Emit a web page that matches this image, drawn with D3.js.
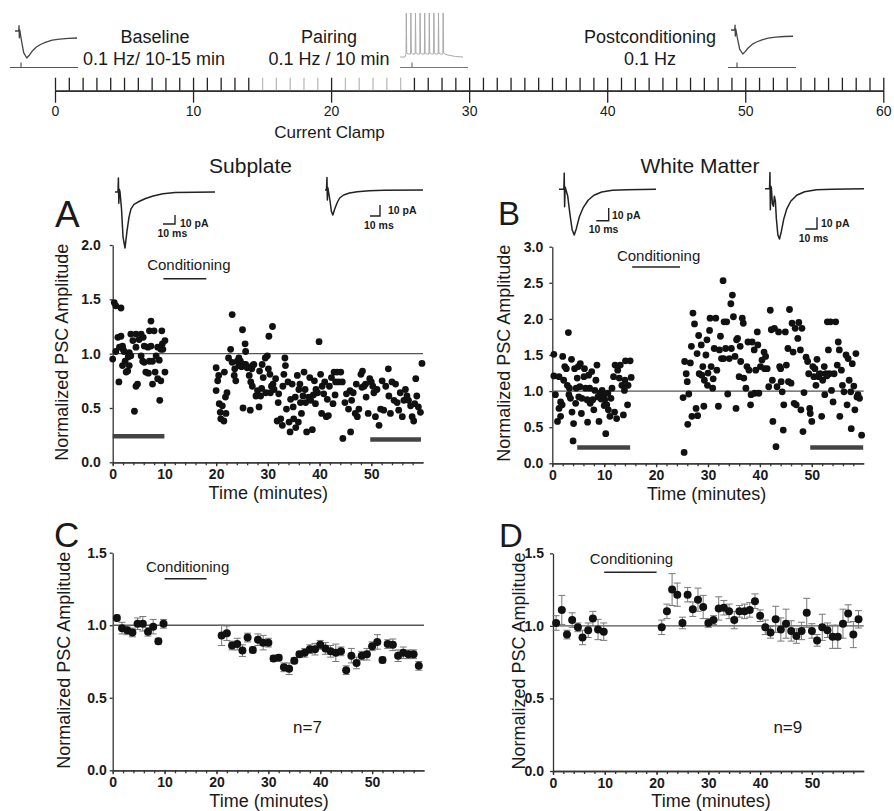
<!DOCTYPE html>
<html>
<head>
<meta charset="utf-8">
<script src="https://cdn.jsdelivr.net/npm/d3@7"></script>
<style>
  body { margin: 0; background: #fff; }
  svg text { font-family: "Liberation Sans", Arial, Helvetica, sans-serif; fill: #1a1a1a; }
</style>
</head>
<body>
<svg id="fig" width="894" height="811"></svg>
<script>
const FONT = '"Liberation Sans", Arial, Helvetica, sans-serif';

// ---- data ----
const timelineTicks = [0, 10, 20, 30, 40, 50, 60];
const panelXTicks = [0, 10, 20, 30, 40, 50];

// Subplate single cell, [minute, normalized amplitude]
const subplatePoints = [
  [0.3,1.47],[0.6,1.44],[1.6,1.42],[0.0,0.95],[0.6,1.02],[1.0,1.15],[1.3,1.06],[1.2,0.74],[1.6,1.16],[1.9,1.07],
  [2.2,1.02],[1.9,0.89],[2.4,0.93],[2.6,0.83],[2.9,0.84],[3.2,1.01],[3.2,0.89],[3.5,1.18],[3.5,0.98],[3.9,1.12],
  [4.2,0.47],[4.5,1.18],[4.5,1.06],[4.5,0.70],[4.8,0.72],[5.1,1.13],[5.5,1.18],[5.5,0.98],[5.8,0.93],[6.1,0.92],
  [6.1,1.07],[6.4,0.83],[6.8,1.06],[6.9,0.82],[7.1,0.93],[7.4,1.30],[7.1,1.21],[7.4,1.07],[7.7,0.93],[7.7,0.72],
  [8.0,1.21],[8.2,0.83],[8.4,0.98],[8.7,1.06],[8.7,0.77],[9.0,0.94],[9.1,0.57],[9.3,0.75],[9.5,1.21],[9.6,1.09],
  [9.7,1.04],[10.1,1.12],[10.1,0.83],[9.3,1.04],[2.0,1.04],[5.9,1.15],[3.0,0.97],
  [20.0,0.87],[20.0,0.66],[20.3,0.75],[20.5,0.80],[20.6,0.54],[20.8,0.46],[20.9,0.40],[21.2,0.52],[21.5,0.38],[21.8,0.60],
  [21.9,0.45],[21.6,0.83],[22.1,0.64],[22.4,0.96],[22.8,1.04],[23.1,1.36],[23.1,0.92],[23.5,0.80],[23.6,0.86],[23.8,0.75],
  [24.1,0.93],[24.4,0.89],[24.4,0.96],[24.7,0.93],[25.1,1.22],[25.2,0.50],[25.4,0.90],[25.6,1.09],[25.7,1.02],[25.7,0.90],
  [26.0,0.87],[26.4,0.80],[26.6,0.48],[26.7,0.74],[27.0,0.89],[27.0,0.70],[27.3,0.90],[27.7,0.61],[28.0,0.66],[28.3,0.51],
  [28.4,0.84],[28.6,0.61],[28.9,0.90],[29.1,0.78],[29.5,0.96],[29.6,0.64],[29.9,0.98],[30.1,0.86],[30.2,1.16],[30.4,0.81],
  [30.5,0.64],[30.9,1.25],[31.0,0.72],[31.2,0.67],[31.5,0.77],[31.8,0.38],[32.0,0.55],[32.1,0.63],[32.5,0.40],[32.8,0.34],
  [33.1,0.81],[33.3,0.96],[33.4,0.89],[33.6,0.49],[33.9,0.74],[34.1,0.37],[34.3,0.28],[34.4,0.58],[34.7,0.72],[34.9,0.51],
  [35.0,0.40],[35.3,0.60],[35.4,0.32],[35.7,0.80],[35.9,0.37],[36.0,0.67],[36.3,0.55],[36.5,0.45],[36.8,0.61],[37.0,0.83],
  [37.2,0.67],[37.3,0.55],[37.5,0.28],[37.9,0.60],[38.1,0.78],[38.3,0.57],[38.6,0.30],[39.0,0.75],[39.2,0.54],[39.3,0.67],
  [39.6,0.64],[39.9,1.11],[40.2,0.81],[40.4,0.45],[40.5,0.70],[40.8,0.63],[41.0,0.74],[41.3,0.42],[41.7,0.43],[41.9,0.70],
  [42.3,0.78],[42.6,0.54],[42.8,0.83],[43.1,0.74],[43.4,0.83],[43.7,0.74],[44.1,0.83],[44.4,0.74],[44.5,0.22],[44.9,0.55],
  [45.2,0.63],[45.6,0.49],[46.0,0.28],[46.2,0.57],[46.5,0.64],[46.9,0.45],[47.1,0.72],[47.3,0.42],[47.6,0.49],[48.0,0.81],
  [48.2,0.69],[48.3,0.84],[48.6,0.70],[48.9,0.72],[49.4,0.45],[49.7,0.77],[50.0,0.74],[50.5,0.64],[50.8,0.42],[51.1,0.67],
  [51.5,0.34],[51.8,0.49],[52.1,0.75],[52.4,0.48],[52.8,0.70],[53.3,0.86],[53.4,0.61],[53.7,0.45],[54.0,0.74],[54.4,0.57],
  [54.7,0.72],[55.0,0.55],[55.3,0.48],[55.6,0.64],[56.0,0.42],[56.3,0.57],[56.6,0.67],[56.9,0.61],[57.2,0.57],[57.6,0.52],
  [57.9,0.42],[58.2,0.38],[58.4,0.54],[58.6,0.77],[58.8,0.61],[59.1,0.51],[59.5,0.46],[59.8,0.91],[49.0,0.60],[50.3,0.70],
  [45.9,0.66],[43.0,0.62],[41.5,0.58],[38.8,0.62],[36.2,0.72],[32.9,0.70],[30.7,0.70],[28.8,0.68],[26.9,0.86],[24.9,0.88]
];

// White matter single cell, [minute, normalized amplitude]
const whiteMatterPoints = [
  [0.3,1.51],[0.3,1.21],[0.6,0.95],[1.0,0.58],[1.3,0.76],[1.3,1.20],[1.6,0.85],[1.6,0.65],[1.9,0.81],[2.0,1.48],
  [2.2,1.15],[2.4,1.34],[2.7,1.31],[2.9,1.08],[3.1,1.81],[3.2,0.95],[3.3,1.04],[3.5,0.90],[3.7,1.44],[3.8,0.71],
  [4.0,0.31],[4.1,0.55],[4.3,1.31],[4.5,0.83],[4.6,1.04],[4.8,1.18],[5.0,1.34],[5.1,0.92],[5.3,1.06],[5.4,1.38],
  [5.6,0.69],[5.7,0.90],[6.1,1.20],[6.2,1.31],[6.4,1.04],[6.7,0.88],[6.8,0.57],[7.0,1.22],[7.2,1.04],[7.3,0.83],
  [7.6,1.27],[7.8,0.88],[8.0,0.74],[8.2,1.01],[8.4,1.15],[8.6,1.36],[8.8,0.92],[9.0,0.58],[9.2,0.97],[9.6,1.01],
  [9.9,0.95],[10.1,0.88],[10.3,0.41],[10.5,0.81],[10.7,0.97],[10.8,0.74],[11.1,0.65],[11.3,0.90],[11.5,1.04],[11.8,1.20],
  [12.0,0.71],[12.1,1.36],[12.4,0.62],[12.6,1.29],[12.9,1.18],[13.1,1.36],[13.4,1.08],[13.7,0.67],[13.9,1.01],[14.0,1.15],
  [14.1,1.42],[14.5,0.81],[14.6,1.08],[15.0,1.42],[15.2,1.19],[9.4,0.89],[10.0,0.80],
  [25.2,0.91],[25.4,0.15],[25.5,1.41],[25.8,1.24],[26.0,1.13],[26.1,0.54],[26.3,0.96],[26.6,1.39],[26.8,1.62],[26.9,0.65],
  [27.1,2.08],[27.4,1.93],[27.7,0.76],[27.9,1.52],[28.0,0.66],[28.2,1.77],[28.3,1.24],[28.7,1.64],[28.8,1.22],[29.0,1.34],
  [29.2,0.79],[29.3,1.15],[29.6,1.50],[29.8,1.71],[29.9,1.08],[30.3,1.84],[30.4,2.01],[30.6,1.34],[30.9,1.04],[31.2,1.59],
  [31.5,2.01],[31.7,1.29],[32.0,0.79],[32.2,1.57],[32.4,1.76],[32.6,1.45],[32.9,2.53],[33.0,1.45],[33.1,1.96],[33.4,1.59],
  [33.6,1.96],[33.8,0.96],[34.1,1.45],[34.4,2.21],[34.5,1.59],[34.7,2.33],[34.9,2.03],[35.2,1.48],[35.4,0.76],[35.5,1.71],
  [35.7,1.73],[36.0,1.20],[36.3,1.41],[36.6,2.01],[36.8,1.94],[36.9,1.18],[37.3,1.04],[37.5,1.34],[37.7,1.68],[37.9,1.29],
  [38.2,0.81],[38.3,0.95],[38.5,1.68],[38.9,1.57],[39.0,0.97],[39.2,1.29],[39.5,1.82],[39.6,1.64],[39.8,0.97],[40.1,1.34],
  [40.4,1.43],[40.8,1.54],[40.9,1.31],[41.1,1.48],[41.4,1.31],[41.7,1.06],[42.0,2.12],[42.2,1.85],[42.4,1.15],[42.5,0.58],
  [42.8,1.87],[43.1,0.23],[43.3,1.06],[43.6,1.82],[43.8,1.34],[44.1,1.13],[44.3,0.99],[44.5,0.46],[44.6,0.81],[44.9,1.82],
  [45.1,1.36],[45.4,1.59],[45.5,1.13],[45.7,2.13],[46.0,1.11],[46.2,1.94],[46.4,1.54],[46.6,0.83],[46.8,1.87],[47.0,0.81],
  [47.3,1.73],[47.5,1.95],[47.8,1.57],[47.9,0.74],[48.1,1.87],[48.3,0.44],[48.5,0.98],[48.9,1.47],[49.2,1.41],[49.4,1.24],
  [49.6,0.76],[49.7,0.69],[50.0,0.58],[50.2,1.34],[50.4,1.20],[50.6,1.31],[50.8,1.08],[51.0,1.44],[51.3,1.20],[51.6,1.24],
  [51.9,0.65],[52.1,1.15],[52.4,1.34],[52.5,0.95],[52.7,1.24],[53.0,1.96],[53.2,1.57],[53.4,1.24],[53.6,1.96],[53.8,1.01],
  [54.1,0.85],[54.3,1.24],[54.6,1.96],[54.9,1.36],[55.1,1.68],[55.3,1.57],[55.4,0.65],[55.7,1.29],[55.9,1.08],[56.2,0.99],
  [56.6,1.50],[56.8,0.81],[57.0,1.45],[57.2,1.15],[57.5,0.99],[57.6,0.48],[57.8,1.38],[58.1,1.07],[58.3,0.74],[58.5,1.52],
  [58.7,0.92],[58.9,0.95],[59.2,0.90],[59.6,0.39],[51.4,1.23],[52.9,1.21],[30.0,1.25],[31.0,1.17],[36.2,1.62],[44.0,1.31]
];

// Group averages, [minute, mean, SEM]
const subplateMean = [
  [0.8,1.05,0.02],[1.8,0.98,0.04],[2.8,0.965,0.03],[3.8,0.95,0.03],[4.8,1.01,0.04],[5.8,1.01,0.05],[6.8,0.955,0.03],[7.8,0.99,0.05],[8.8,0.89,0.02],[9.8,1.01,0.03],
  [21,0.93,0.07],[22,0.945,0.05],[23,0.86,0.03],[24,0.87,0.04],[25,0.825,0.04],[26,0.915,0.03],[27,0.83,0.02],[28,0.90,0.04],[29,0.88,0.05],[30,0.88,0.03],
  [31,0.77,0.02],[32,0.775,0.02],[33,0.71,0.03],[34,0.70,0.04],[35,0.755,0.02],[36,0.80,0.02],[37,0.81,0.03],[38,0.835,0.03],[39,0.835,0.04],[40,0.865,0.03],
  [41,0.84,0.04],[42,0.82,0.04],[43,0.81,0.06],[44,0.82,0.03],[45,0.69,0.03],[46,0.79,0.05],[47,0.74,0.04],[48,0.79,0.03],[49,0.80,0.04],[50,0.855,0.03],
  [51,0.885,0.05],[52,0.76,0.02],[53,0.87,0.03],[54,0.865,0.04],[55,0.79,0.04],[56,0.81,0.04],[57,0.80,0.03],[58,0.80,0.03],[59,0.72,0.03]
];
const whiteMatterMean = [
  [0.6,1.02,0.05],[1.7,1.11,0.10],[2.7,0.94,0.03],[3.7,1.04,0.05],[4.8,0.99,0.03],[5.7,0.92,0.05],[6.8,0.97,0.05],[7.7,1.05,0.05],[8.7,0.975,0.07],[9.8,0.96,0.06],
  [21,0.99,0.05],[22,1.10,0.05],[23,1.25,0.11],[24,1.215,0.08],[25,1.02,0.04],[26,1.215,0.05],[27,1.115,0.05],[28,1.18,0.08],[29,1.13,0.08],[30,1.02,0.03],
  [31,1.04,0.03],[32,1.12,0.08],[33,1.125,0.05],[34,1.10,0.05],[35,1.04,0.06],[36,1.10,0.04],[37,1.10,0.05],[38,1.11,0.05],[39,1.17,0.05],[40,1.07,0.04],
  [41,0.99,0.05],[42,0.955,0.04],[43,1.045,0.09],[44,0.975,0.08],[45,1.015,0.10],[46,0.965,0.07],[47,0.93,0.05],[48,0.965,0.06],[49,1.09,0.10],[50,0.965,0.05],
  [51,0.90,0.04],[52,0.99,0.09],[53,0.97,0.05],[54,0.925,0.08],[55,0.925,0.08],[56,1.015,0.10],[57,1.085,0.06],[58,0.94,0.09],[59,1.045,0.06]
];

// analysis windows [from, to, level] and conditioning [from, to, level]
const subplateBars = [[0, 10, 0.24], [49.8, 59.6, 0.21]];
const whiteMatterBars = [[4.8, 15, 0.22], [49.7, 59.9, 0.22]];
const condA = [9.8, 18.1, 1.69];
const condB = [15.4, 24.6, 2.72];
const condC = [10, 18.1, 1.32];
const condD = [9.9, 20, 1.37];

// inset traces, [percent of window, fraction of peak]
const epscTop = [[0,0],[6,0],[6.5,0.2],[7,-0.25],[7.5,0.05],[8,0],[10,-0.3],[14,-0.8],[19,-1],[23,-0.9],[28,-0.74],[34,-0.6],[41,-0.5],[50,-0.41],[60,-0.34],[72,-0.3],[86,-0.27],[100,-0.26]];
const epscA1 = [[0,0],[3,0],[3.4,0.25],[3.8,-0.2],[4.3,0.05],[5,0],[6.5,-0.3],[8,-0.8],[10,-1],[12,-0.7],[14,-0.45],[16,-0.3],[19,-0.22],[24,-0.17],[30,-0.12],[38,-0.07],[48,-0.03],[60,-0.01],[100,0]];
const epscA2 = [[0,0],[1.5,0],[2,0.5],[2.4,-0.4],[2.8,0.1],[3.3,0],[5,-0.4],[6.5,-0.85],[8,-1],[10,-0.75],[12.5,-0.5],[15,-0.32],[19,-0.2],[25,-0.12],[33,-0.07],[45,-0.03],[60,-0.01],[100,0]];
const epscB1 = [[0,0],[5,0],[5.4,0.35],[5.8,-0.38],[6.3,0.05],[7,0],[9,-0.15],[11,-0.5],[13.5,-0.88],[15.7,-1],[18,-0.85],[21,-0.6],[25,-0.4],[30,-0.24],[36,-0.13],[44,-0.06],[55,-0.02],[70,-0.01],[100,0]];
const epscB2 = [[0,0],[4.6,0],[5,0.32],[5.4,-0.42],[5.9,0.05],[6.5,0],[7.5,-0.3],[8.5,-0.35],[9.5,-0.15],[10.5,-0.25],[11.5,-0.6],[13,-0.92],[14.6,-1],[16.5,-0.85],[19,-0.6],[22,-0.4],[26,-0.25],[32,-0.13],[40,-0.06],[52,-0.02],[68,-0.01],[100,0]];
const pairingSpikes = [9.5, 16.8, 24.1, 31.4, 38.7, 46, 53.3, 60.6, 68];

// ---- drawing ----
const svg = d3.select('#fig');
svg.append('rect').attr('width', 894).attr('height', 811).attr('fill', '#fff');

function label(txt, x, y, size, opts) {
  opts = opts || {};
  return svg.append('text').text(txt)
    .attr('x', x).attr('y', y)
    .attr('font-size', size)
    .attr('text-anchor', opts.anchor || 'middle')
    .attr('font-weight', opts.bold ? 'bold' : 'normal');
}

// Timeline at the top
const tx = d3.scaleLinear().domain([0, 60]).range([55, 883.3]);
const tl = svg.append('g').attr('transform', 'translate(0,90.7)');
tl.append('g').call(d3.axisTop(tx).tickValues(d3.range(0, 61)).tickSize(13).tickFormat('').tickSizeOuter(0));
tl.append('g').call(d3.axisBottom(tx).tickValues(timelineTicks).tickSize(12).tickPadding(3).tickSizeOuter(0));
tl.selectAll('.domain').attr('stroke', '#222').attr('stroke-width', 1.3);
tl.selectAll('.tick line').attr('stroke-width', 1.3)
  .attr('stroke', d => (d >= 15 && d <= 25 && d !== 20) ? '#bbb' : '#222');
tl.selectAll('text').attr('font-family', FONT).attr('font-size', 14).attr('fill', '#1a1a1a');

label('Baseline', 155, 43, 18);
label('0.1 Hz/ 10-15 min', 154, 65, 18);
label('Pairing', 329, 43, 18);
label('0.1 Hz / 10 min', 329, 65, 18);
label('Postconditioning', 650, 43, 18);
label('0.1 Hz', 650, 65, 18);
label('Current Clamp', 329.5, 138, 17);

function drawTrace(pts, box, color, width) {
  const sx = d3.scaleLinear().domain([0, 100]).range([box.x1, box.x2]);
  const sy = d3.scaleLinear().domain([-1, 0]).range([box.yMin, box.yBase]);
  svg.append('path').datum(pts)
    .attr('d', d3.line().x(d => sx(d[0])).y(d => sy(d[1])))
    .attr('fill', 'none').attr('stroke', color).attr('stroke-width', width)
    .attr('stroke-linejoin', 'round');
}

function stimLine(x1, x2, mark, y, color) {
  svg.append('line').attr('x1', x1).attr('x2', x2).attr('y1', y).attr('y2', y)
    .attr('stroke', color).attr('stroke-width', 1.2);
  svg.append('line').attr('x1', mark).attr('x2', mark).attr('y1', y - 5).attr('y2', y)
    .attr('stroke', color).attr('stroke-width', 1.2);
}

drawTrace(epscTop, {x1: 15, x2: 77, yBase: 31, yMin: 58}, '#444', 1.3);
stimLine(10, 78, 21, 67.5, '#555');
drawTrace(epscTop, {x1: 731, x2: 793, yBase: 30, yMin: 54}, '#444', 1.3);
stimLine(728, 796, 737, 67.5, '#555');

// pairing spikes (current clamp)
const px = d3.scaleLinear().domain([0, 100]).range([400, 463]);
const spikePts = [[0, 57], [pairingSpikes[0] - 1.5, 57]];
pairingSpikes.forEach(s => {
  spikePts.push([s, 54], [s + 0.5, 13], [s + 1.2, 53], [s + 3.5, 54]);
});
spikePts.push([76, 55], [88, 56.5], [100, 57]);
svg.append('path').datum(spikePts)
  .attr('d', d3.line().x(d => px(d[0])).y(d => d[1]))
  .attr('fill', 'none').attr('stroke', '#aaa').attr('stroke-width', 1);
stimLine(400, 468, 412, 67.5, '#777');

// panel titles and letters
label('Subplate', 250.5, 172.7, 21);
label('White Matter', 700, 173, 21);
label('A', 55, 227, 37, {anchor: 'start'});
label('B', 498, 225, 33, {anchor: 'start'});
label('C', 54, 547, 35, {anchor: 'start'});
label('D', 499, 547, 33, {anchor: 'start'});

// inset traces in A and B
drawTrace(epscA1, {x1: 115, x2: 215, yBase: 192, yMin: 248}, '#222', 1.5);
drawTrace(epscA2, {x1: 325, x2: 423, yBase: 190, yMin: 215}, '#222', 1.5);
drawTrace(epscB1, {x1: 559, x2: 656, yBase: 189.3, yMin: 235}, '#222', 1.5);
drawTrace(epscB2, {x1: 765, x2: 864, yBase: 188.7, yMin: 239}, '#222', 1.5);

function scaleBar(hx1, vx, yTop, yBot, pa, ms) {
  svg.append('path').attr('d', `M${hx1},${yBot}H${vx}V${yTop}`)
    .attr('fill', 'none').attr('stroke', '#222').attr('stroke-width', 1.4);
  label('10 pA', pa[0], pa[1], 10.5, {anchor: 'start', bold: true});
  label('10 ms', ms[0], ms[1], 10.5, {anchor: 'start', bold: true});
}
scaleBar(163, 175, 215, 224, [180, 227], [157.5, 237]);
scaleBar(370, 380, 205, 216, [388, 214], [364, 229]);
scaleBar(596.3, 608.7, 208, 220.7, [612, 219], [588.7, 232.7]);
scaleBar(805.3, 817, 217.3, 229, [821, 227], [798.7, 242.3]);

// scatter / mean panels
function drawPanel(cfg) {
  const g = svg.append('g');
  const x = d3.scaleLinear().domain([0, 60]).range([cfg.left, cfg.right]);
  const y = d3.scaleLinear().domain([0, cfg.yMax]).range([cfg.bottom, cfg.top]);

  const minor = g.append('g').attr('transform', `translate(0,${cfg.bottom})`)
    .call(d3.axisBottom(x).tickValues(d3.range(0, 60, 2)).tickSize(3).tickFormat('').tickSizeOuter(0));
  const xAx = g.append('g').attr('transform', `translate(0,${cfg.bottom})`)
    .call(d3.axisBottom(x).tickValues(panelXTicks).tickSize(4).tickPadding(3).tickSizeOuter(0));
  const yAx = g.append('g').attr('transform', `translate(${cfg.left},0)`)
    .call(d3.axisLeft(y).tickValues(d3.range(0, cfg.yMax + 0.01, 0.5)).tickFormat(d3.format('.1f'))
      .tickSize(3).tickPadding(cfg.yPad).tickSizeOuter(0));
  [minor, xAx, yAx].forEach(a => {
    a.attr('font-family', FONT).attr('font-size', 14).attr('font-weight', 'bold');
    a.selectAll('.domain, line').attr('stroke', '#333').attr('stroke-width', 1.3);
    a.selectAll('text').attr('fill', '#1a1a1a');
  });

  // reference at 1.0
  g.append('line').attr('x1', x(0)).attr('x2', x(60)).attr('y1', y(1)).attr('y2', y(1))
    .attr('stroke', '#555').attr('stroke-width', 1.3);

  // conditioning
  g.append('line').attr('x1', x(cfg.cond[0])).attr('x2', x(cfg.cond[1]))
    .attr('y1', y(cfg.cond[2])).attr('y2', y(cfg.cond[2]))
    .attr('stroke', '#222').attr('stroke-width', 1.5);
  g.append('text').text('Conditioning')
    .attr('x', (x(cfg.cond[0]) + x(cfg.cond[1])) / 2 + cfg.condDx)
    .attr('y', y(cfg.cond[2]) - cfg.condDy)
    .attr('text-anchor', 'middle').attr('font-size', 15);

  // axis titles
  g.append('text').text('Time (minutes)')
    .attr('x', cfg.xTitle).attr('y', cfg.bottom + 36.4)
    .attr('text-anchor', 'middle').attr('font-size', 18);
  g.append('text').text('Normalized PSC Amplitude')
    .attr('transform', `translate(${cfg.yTitle},${cfg.bottom - 110})rotate(-90)`)
    .attr('text-anchor', 'middle').attr('font-size', 18);

  return {g, x, y};
}

function drawBars(p, bars) {
  p.g.selectAll(null).data(bars).enter().append('line')
    .attr('x1', d => p.x(d[0])).attr('x2', d => p.x(d[1]))
    .attr('y1', d => p.y(d[2])).attr('y2', d => p.y(d[2]))
    .attr('stroke', '#444').attr('stroke-width', 4.5);
}

function drawScatter(p, pts) {
  p.g.selectAll(null).data(pts).enter().append('circle')
    .attr('cx', d => p.x(d[0])).attr('cy', d => p.y(d[1]))
    .attr('r', 3.4).attr('fill', '#111');
}

function drawMeans(p, pts) {
  const eb = p.g.selectAll(null).data(pts).enter().append('g').attr('stroke', '#777').attr('stroke-width', 1);
  eb.append('line').attr('x1', d => p.x(d[0])).attr('x2', d => p.x(d[0]))
    .attr('y1', d => p.y(d[1] - d[2])).attr('y2', d => p.y(d[1] + d[2]));
  eb.append('line').attr('x1', d => p.x(d[0]) - 3.5).attr('x2', d => p.x(d[0]) + 3.5)
    .attr('y1', d => p.y(d[1] + d[2])).attr('y2', d => p.y(d[1] + d[2]));
  eb.append('line').attr('x1', d => p.x(d[0]) - 3.5).attr('x2', d => p.x(d[0]) + 3.5)
    .attr('y1', d => p.y(d[1] - d[2])).attr('y2', d => p.y(d[1] - d[2]));
  p.g.selectAll(null).data(pts).enter().append('circle')
    .attr('cx', d => p.x(d[0])).attr('cy', d => p.y(d[1]))
    .attr('r', 4).attr('fill', '#111');
}

const pA = drawPanel({left: 112.7, right: 423, bottom: 462.3, top: 245, yMax: 2, yPad: 9,
  cond: condA, condDx: 4, condDy: 9, xTitle: 268.3, yTitle: 68});
drawBars(pA, subplateBars);
drawScatter(pA, subplatePoints);

const pB = drawPanel({left: 552.3, right: 863.7, bottom: 463.3, top: 246.7, yMax: 3, yPad: 6,
  cond: condB, condDx: 2.5, condDy: 5.5, xTitle: 706.7, yTitle: 510});
drawBars(pB, whiteMatterBars);
drawScatter(pB, whiteMatterPoints);

const pC = drawPanel({left: 112.7, right: 424, bottom: 770.3, top: 552.7, yMax: 1.5, yPad: 3,
  cond: condC, condDx: 2, condDy: 6.6, xTitle: 269, yTitle: 70});
drawMeans(pC, subplateMean);
label('n=7', 307.5, 733.3, 17);

const pD = drawPanel({left: 553, right: 863.7, bottom: 771, top: 553.3, yMax: 1.5, yPad: 6,
  cond: condD, condDx: 1, condDy: 7.7, xTitle: 711, yTitle: 525});
drawMeans(pD, whiteMatterMean);
label('n=9', 787.8, 732.7, 17);
</script>
</body>
</html>
